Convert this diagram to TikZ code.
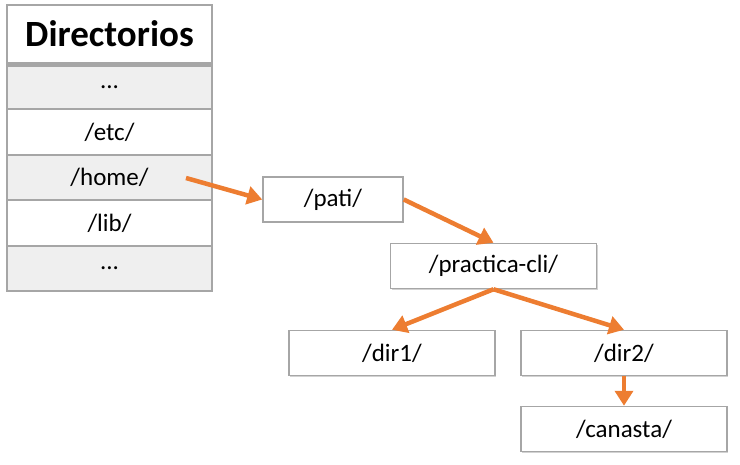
\documentclass[tikz,border=0pt]{standalone}
\usepackage{fontspec}
\setmainfont{Carlito}
\usetikzlibrary{arrows.meta,shadows}
\definecolor{arr}{HTML}{ED7D31}
\definecolor{bord}{HTML}{A6A6A6}
\definecolor{cellgray}{HTML}{EFEFEF}
\tikzset{
  cell/.style={draw=bord, line width=1.5pt, minimum width=205pt, minimum height=45pt, inner sep=0pt, font=\fontsize{25}{28}\selectfont, text=black},
  cellg/.style={cell, fill=cellgray},
  box/.style={draw=bord, line width=1.5pt, fill=white, inner sep=0pt, font=\fontsize{25}{28}\selectfont,
    minimum height=45pt, drop shadow={shadow xshift=1pt, shadow yshift=-1pt, fill=bord}},
  link/.style={draw=arr, line width=4.5pt, -{Triangle[length=15pt,width=18pt]}, shorten >=0pt}
}
\begin{document}
\begin{tikzpicture}[x=1pt,y=-1pt]
\useasboundingbox (0,0) rectangle (740,464);
% table
\node[cell, minimum height=58pt, font=\fontsize{37}{40}\selectfont\bfseries] (hdr) at (109.5,34) {Directorios};
\node[cellg, minimum height=44pt] (r1) at (109.5,87) {...};
\node[cell, minimum height=46pt] (r2) at (109.5,132) {/etc/};
\node[cellg, minimum height=45pt] (r3) at (109.5,177.5) {/home/};
\node[cell, minimum height=46pt] (r4) at (109.5,223) {/lib/};
\node[cellg, minimum height=45pt] (r5) at (109.5,268.5) {...};
\draw[bord, line width=1.5pt] (hdr.south west) ++(0,2) -- ++(205,0);
% tree
\node[box, minimum width=140pt] (pati) at (333,199.5) {/pati/};
\node[box, minimum width=206pt] (prac) at (493.5,266) {/practica-cli/};
\node[box, minimum width=206pt] (dir1) at (392,353) {/dir1/};
\node[box, minimum width=206pt] (dir2) at (624,353) {/dir2/};
\node[box, minimum width=206pt] (can) at (624,429) {/canasta/};
\coordinate (hstart) at (186,178);
\draw[link] (hstart) -- (pati.west);
\draw[link] (pati.east) -- (prac.north);
\draw[link] (prac.south) -- (dir1.north);
\draw[link] (prac.south) -- (dir2.north);
\draw[link] (dir2.south) -- (can.north);
\end{tikzpicture}
\end{document}
